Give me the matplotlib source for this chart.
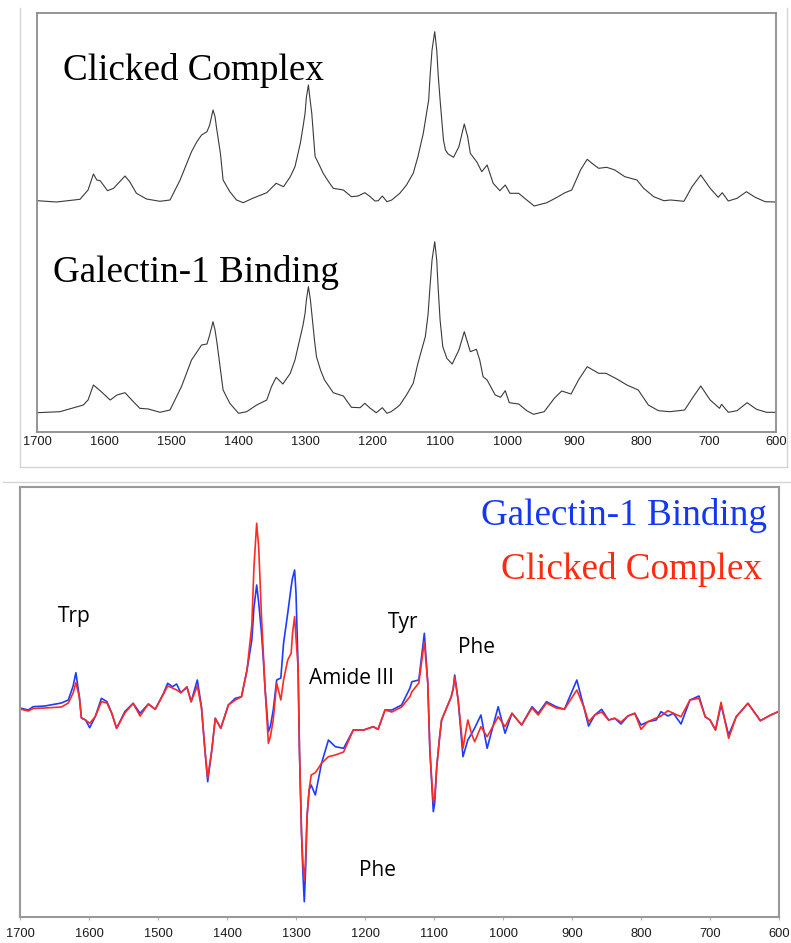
import matplotlib
matplotlib.use('Agg')
import matplotlib.pyplot as plt
from matplotlib.lines import Line2D
import numpy as np

W, H = 791, 943

# Raman spectra (arbitrary intensity units above each baseline)
clicked_wn = [1700, 1671, 1636, 1624, 1616, 1611, 1606, 1595, 1586, 1569, 1562, 1552, 1537, 1517, 1502,
              1487, 1477, 1470, 1462, 1455, 1447, 1443, 1438, 1435, 1433, 1427, 1423, 1413, 1403, 1393,
              1379, 1358, 1344, 1333, 1323, 1316, 1308, 1304, 1301, 1299, 1296, 1294, 1291, 1288, 1286,
              1281, 1274, 1266, 1259, 1244, 1232, 1222, 1212, 1204, 1197, 1192, 1186, 1179, 1172, 1160,
              1150, 1140, 1133, 1125, 1117, 1115, 1112, 1108, 1105, 1103, 1100, 1095, 1092, 1088, 1080,
              1072, 1064, 1059, 1055, 1045, 1038, 1030, 1021, 1011, 1003, 996, 983, 971, 960, 941, 926,
              914, 904, 891, 881, 874, 864, 852, 840, 825, 807, 797, 782, 767, 757, 737, 725, 712, 698,
              686, 680, 671, 658, 644, 631, 616, 601]
clicked_int = [2.3, 1, 3.7, 13, 29, 23, 22.3, 12.3, 14.7, 27, 21.3, 9.7, 4, 1.7, 3,
               23, 39.7, 51.3, 61.3, 68, 71.3, 78, 93, 86.3, 76.3, 49.7, 23, 11.3, 3, 0.3,
               4.7, 10.3, 19.7, 16.3, 26.3, 36.3, 59.7, 76.3, 89.7, 106, 118, 106, 89.7, 63, 46.3,
               39.7, 29.7, 21.3, 14.7, 13, 6.3, 7, 10.3, 6.3, 2, 2.3, 7, 1.3, 3, 9.7,
               18, 29.7, 46.3, 69.7, 103, 126, 153, 171.3, 153, 129.7, 103, 63, 53, 49, 45.7,
               56.3, 79, 66.3, 49.7, 40.7, 31.3, 38, 19.7, 12.3, 18, 9.7, 9.7, 3, -3, 0.3, 5.7,
               10.3, 13, 33, 43.7, 39.7, 34.7, 35.7, 33, 26.3, 23, 14.7, 6.3, 2.3, 3, 1.7, 16.3, 28, 14.7,
               5.7, 10.3, 2, 4.7, 11.3, 5.7, 1.3, 1]

galectin_wn = [1700, 1666, 1631, 1624, 1616, 1606, 1591, 1581, 1569, 1559, 1547, 1534, 1517, 1502,
               1485, 1470, 1455, 1447, 1443, 1438, 1435, 1432, 1423, 1413, 1400, 1388, 1373, 1358,
               1351, 1344, 1334, 1323, 1316, 1308, 1304, 1301, 1299, 1296, 1293, 1290, 1287, 1284,
               1278, 1272, 1259, 1244, 1232, 1219, 1212, 1204, 1195, 1186, 1179, 1173, 1164, 1160,
               1150, 1140, 1133, 1122, 1118, 1115, 1112, 1108, 1105, 1103, 1100, 1096, 1090, 1082,
               1072, 1064, 1055, 1046, 1041, 1036, 1030, 1018, 1010, 1003, 997, 983, 971, 961, 945,
               930, 919, 905, 894, 881, 864, 853, 836, 822, 805, 790, 775, 758, 736, 723, 712, 698,
               684, 681, 671, 658, 643, 629, 614, 601]
galectin_int = [2.3, 3.3, 10, 15, 30, 24.3, 15, 20, 22.3, 15, 6.7, 6, 2.7, 5,
                28.3, 55, 70, 71, 80, 93.3, 85, 71.7, 25, 11.7, 1.7, 3.3, 10, 15,
                28.3, 37.7, 31, 41.7, 55, 78.3, 90, 101.7, 115, 128.3, 115, 95, 75, 58.3,
                45, 35, 22.3, 19, 7.7, 7.3, 11.7, 6.7, 2.3, 7.3, 1.7, 3.3, 7.7, 10,
                20, 31.7, 51.7, 78.3, 100, 128.3, 155, 173.3, 155, 128.3, 95, 68.3, 56.7, 51,
                65, 83.3, 63.3, 65.7, 55, 38.3, 35, 20, 17.7, 24.3, 12.3, 11, 4.3, 0.7, 3.3,
                16.7, 24, 21, 35, 48.3, 41.7, 41.7, 35.7, 30, 25, 10, 4.3, 3.3, 5, 18.3, 29, 15,
                6.7, 10.7, 2.7, 4.3, 12.3, 5.7, 2.7, 2.7]

# Second-derivative style difference spectra
diff_wn = [1700, 1688, 1681, 1664, 1640, 1630, 1623, 1619, 1614, 1611, 1605, 1599, 1591, 1582, 1574,
           1567, 1560, 1548, 1536, 1526, 1514, 1504, 1492, 1486, 1479, 1473, 1467, 1458, 1452, 1443,
           1437, 1432, 1428, 1422, 1417, 1409, 1398, 1388, 1379, 1371,
           1364, 1361, 1357, 1354, 1350, 1347, 1345, 1340, 1337, 1333, 1328, 1322, 1318, 1312, 1307,
           1305, 1302, 1300, 1297, 1295, 1292, 1290, 1288, 1286, 1284, 1281,
           1278, 1272, 1263, 1253, 1243, 1231, 1217, 1202, 1188, 1181, 1171, 1161, 1147, 1135, 1132,
           1122, 1114, 1112, 1109, 1106, 1103, 1101, 1099, 1096, 1092, 1089, 1082, 1075, 1072, 1070,
           1065,
           1058, 1051, 1045, 1041, 1032, 1023, 1007, 997, 987, 973, 958, 949, 937, 923, 911, 893,
           883, 876, 867, 857, 847, 838, 829, 819, 809, 800, 790, 778, 771, 761, 753, 742, 729, 716,
           707, 700, 692, 684, 673, 662, 645, 627, 612, 601]
galectin_diff = [0, -2, 1.3, 2, 5, 8, 22, 35.3, 11.3, -10, -12, -19.7, -8.7, 9.7, 6.3,
                 -5.3, -20.3, -3.5, 4.7, -5.3, 4, -1.3, 14.7, 24.7, 21.3, 24, 15.3, 20.7, 6.3, 28,
                 1.3, -42, -73.7, -42, -10.3, -20.3, 3, 9.7, 11.3, 38,
                 68, 100, 123, 105, 75, 45, 21.3, -23.7, -18, -2, 28, 30, 65, 94.7, 121.3,
                 130, 138, 115, 41.3, -42, -125.3, -165, -193.7, -160, -108.7, -82,
                 -77, -87, -55.3, -32, -38.7, -40.3, -22, -22, -18.7, -21.3, -2, -2, 3, 19.7, 26.3,
                 28, 74.7, 55, 24.7, -42, -80, -103.7, -95, -58.7, -30, -12, -0.3, 11.3, 20, 33,
                 8,
                 -48.7, -32, -25, -20, -7, -40.3, 1.3, -25.3, -5.3, -17, 1.3, -5.3, 6.3, 1.3, -1.3, 28,
                 1.3, -18, -7, -1.3, -12, -10.3, -16, -8, -5.3, -17, -13.7, -12, -3.7, -8, -5.3, -16, 8, 12,
                 -8.7, -12, -22, 3, -27, -8.7, 4.7, -12.7, -7, -3.7]
clicked_diff = [-1, -3, -0.5, 0, 1, 5, 15, 25.3, 11, -10, -12, -15.3, -8.7, 6.3, 5,
                -5.3, -20.3, -5, 4.7, -8, 4, -1.3, 14, 22, 20, 18, 15.3, 21.3, 6.3, 22,
                0, -42, -70, -42, -10.3, -20.3, 3, 8, 11.3, 38,
                83, 140, 184.7, 160, 91.3, 50, 21.3, -35.3, -28, -12, 24.7, 8, 28, 48, 54.7,
                75, 91.3, 70, 41.3, -42, -125.3, -155, -172, -150, -108.7, -82,
                -67, -64.7, -55.3, -48.7, -47, -44, -22, -22, -18.7, -21.3, -2, -4, 1, 11.3, 16.3,
                25, 66.3, 50, 24.7, -42, -75, -93.7, -90, -58.7, -30, -12, -0.3, 11.3, 20, 31,
                8,
                -40.3, -12, -27, -33.7, -18.7, -28.7, -8.7, -18.7, -5.3, -17, 0, -7, 5, 0, -1.3, 18,
                1.3, -13.7, -7, -4, -12, -10.3, -14, -8, -5.3, -21.3, -13.7, -10, -8, -2.7, -5.3, -8.7, 8, 9.7,
                -8.7, -12, -22, 5.7, -30.3, -8.7, 4.7, -12.7, -7, -3.7]

xticks = [1700, 1600, 1500, 1400, 1300, 1200, 1100, 1000, 900, 800, 700, 600]

# band assignments: (text, left px, baseline px)
band_labels = [
    ('Trp', 58, 622),
    ('Amide III', 309, 684),
    ('Tyr', 388, 628),
    ('Phe', 458, 653),
    ('Phe', 359, 876),
]

# offsets that stack the two raw spectra in the upper panel
clicked_offset = 229
galectin_offset = 17

spine_grey = '#8c8c8c'
blue = '#1e3cff'
red = '#ff2a22'


def fig_xy(px, py):
    return px / W, 1 - py / H


def axes_rect(left, top, right, bottom):
    return [left / W, 1 - bottom / H, (right - left) / W, (bottom - top) / H]


fig = plt.figure(figsize=(W / 100, H / 100), dpi=100)

# light frames around the two panels
frame = '#d4d4d4'
fig.add_artist(Line2D([20 / W, 20 / W], [1 - 8 / H, 1 - 467 / H], color=frame, lw=1))
fig.add_artist(Line2D([20 / W, 787 / W], [1 - 467 / H, 1 - 467 / H], color=frame, lw=1))
fig.add_artist(Line2D([787 / W, 787 / W], [1 - 8 / H, 1 - 467 / H], color=frame, lw=1))
fig.add_artist(Line2D([3 / W, 1], [1 - 482 / H, 1 - 482 / H], color=frame, lw=1))

# upper panel: raw spectra
ax1 = fig.add_axes(axes_rect(37, 13, 776, 432))
ax1.plot(clicked_wn, np.array(clicked_int) + clicked_offset, color='#3a3a3a', lw=0.8)
ax1.plot(galectin_wn, np.array(galectin_int) + galectin_offset, color='#3a3a3a', lw=0.8)
ax1.set_xlim(1700, 600)
ax1.set_ylim(0, 419)
ax1.set_yticks([])
ax1.set_xticks(xticks)
ax1.tick_params(axis='x', length=0, pad=3.2, labelsize=9.3, labelcolor='#1a1a1a')
for s in ax1.spines.values():
    s.set_color(spine_grey)
    s.set_linewidth(1.3)

# lower panel: difference spectra
ax2 = fig.add_axes(axes_rect(20, 487, 779, 917))
ax2.plot(diff_wn, galectin_diff, color=blue, lw=1.2)
ax2.plot(diff_wn, clicked_diff, color=red, lw=1.2)
ax2.set_xlim(1700, 600)
ax2.set_ylim(-209, 221)
ax2.set_yticks([])
ax2.set_xticks(xticks)
ax2.tick_params(axis='x', length=2.5, color='#b0b0b0', pad=5.2, labelsize=9.3, labelcolor='#1a1a1a')
for s in ax2.spines.values():
    s.set_color('#999999')
    s.set_linewidth(1.5)

for a in (ax1, ax2):
    for t in a.get_xticklabels():
        t.set_fontfamily('Liberation Sans')

serif = 'Liberation Serif'
fig.text(*fig_xy(63, 80), 'Clicked Complex', fontsize=26.7, family=serif, va='baseline', ha='left')
fig.text(*fig_xy(53, 282), 'Galectin-1 Binding', fontsize=26.7, family=serif, va='baseline', ha='left')
fig.text(*fig_xy(767, 525), 'Galectin-1 Binding', fontsize=26.7, family=serif, color='#1436f5',
         va='baseline', ha='right')
fig.text(*fig_xy(762, 579), 'Clicked Complex', fontsize=26.7, family=serif, color='#ff2a10',
         va='baseline', ha='right')

for name, px, py in band_labels:
    fig.text(*fig_xy(px, py), name, fontsize=15, family='Open Sans', va='baseline', ha='left')

fig.savefig('out.png', dpi=100)
